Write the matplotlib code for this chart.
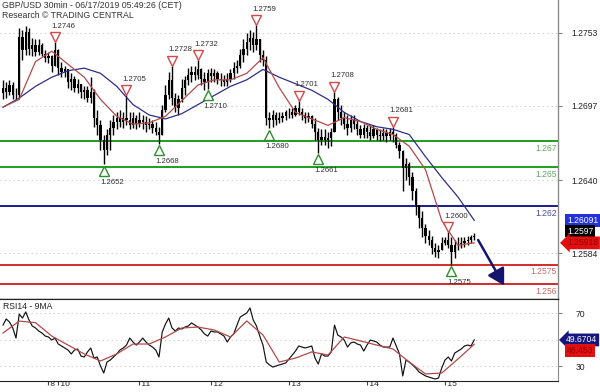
import matplotlib
matplotlib.use("Agg")
import matplotlib.pyplot as plt
import matplotlib.transforms as mtransforms
import numpy as np

plt.rcParams["font.family"] = ["Liberation Sans", "DejaVu Sans"]

# ---------------- data (hourly-sampled 30min chart) ----------------
first_open = 1.2707
closes = [
    1.2711, 1.2708, 1.2713, 1.2705, 1.2705, 1.2750, 1.2740, 1.2754, 1.2741, 1.2744,
    1.2738, 1.2744, 1.2737, 1.2734, 1.2735, 1.2728, 1.2740, 1.2726, 1.2723, 1.2725,
    1.2715, 1.2718, 1.2711, 1.2714, 1.2708, 1.2709, 1.2703, 1.2708, 1.2688, 1.2682,
    1.2671, 1.2663, 1.2675, 1.2680, 1.2685, 1.2688, 1.2685, 1.2688, 1.2686, 1.2682,
    1.2688, 1.2683, 1.2686, 1.2685, 1.2682, 1.2683, 1.2680, 1.2677, 1.2675, 1.2694,
    1.2705, 1.2717, 1.2703, 1.2695, 1.2702, 1.2711, 1.2717, 1.2721, 1.2723, 1.2721,
    1.2725, 1.2718, 1.2715, 1.2722, 1.2720, 1.2722, 1.2718, 1.2717, 1.2715, 1.2718,
    1.2722, 1.2726, 1.2728, 1.2736, 1.2741, 1.2746, 1.2749, 1.2744, 1.2748, 1.2736,
    1.2732, 1.2688, 1.2686, 1.2690, 1.2686, 1.2688, 1.2689, 1.2692, 1.2692, 1.2690,
    1.2695, 1.2692, 1.2690, 1.2688, 1.2689, 1.2683, 1.2677, 1.2671, 1.2673, 1.2671,
    1.2672, 1.2677, 1.2702, 1.2692, 1.2688, 1.2683, 1.2680, 1.2686, 1.2683, 1.2679,
    1.2675, 1.2680, 1.2677, 1.2674, 1.2679, 1.2675, 1.2674, 1.2676, 1.2674, 1.2677,
    1.2675, 1.2667, 1.2662, 1.2649, 1.2652, 1.2642, 1.2632, 1.2621, 1.2611, 1.2603,
    1.2597, 1.2594, 1.2588, 1.2585, 1.2586, 1.2592, 1.2594, 1.2590, 1.2585, 1.2590,
    1.2591, 1.2592, 1.2593, 1.2594, 1.2596, 1.2597,
]
highs = [
    1.2717, 1.2715, 1.2717, 1.2715, 1.2711, 1.2757, 1.2755, 1.2758, 1.2757, 1.2749,
    1.2748, 1.2748, 1.2745, 1.2740, 1.2738, 1.2736, 1.2746, 1.2741, 1.2731, 1.2728,
    1.2725, 1.2722, 1.2720, 1.2718, 1.2714, 1.2712, 1.2712, 1.2719, 1.2710, 1.2694,
    1.2686, 1.2675, 1.2679, 1.2686, 1.2690, 1.2692, 1.2694, 1.2692, 1.2705, 1.2692,
    1.2692, 1.2690, 1.2692, 1.2690, 1.2689, 1.2688, 1.2686, 1.2685, 1.2681, 1.2698,
    1.2713, 1.2723, 1.2728, 1.2707, 1.2705, 1.2718, 1.2720, 1.2726, 1.2728, 1.2728,
    1.2732, 1.2726, 1.2723, 1.2725, 1.2726, 1.2725, 1.2724, 1.2722, 1.2721, 1.2722,
    1.2725, 1.2731, 1.2732, 1.2741, 1.2748, 1.2753, 1.2755, 1.2754, 1.2759, 1.2744,
    1.2740, 1.2735, 1.2692, 1.2694, 1.2692, 1.2692, 1.2692, 1.2694, 1.2695, 1.2695,
    1.2698, 1.2701, 1.2695, 1.2692, 1.2692, 1.2690, 1.2688, 1.2680, 1.2679, 1.2679,
    1.2677, 1.2680, 1.2708, 1.2704, 1.2698, 1.2692, 1.2690, 1.2690, 1.2690, 1.2686,
    1.2682, 1.2683, 1.2682, 1.2682, 1.2682, 1.2680, 1.2679, 1.2680, 1.2679, 1.2680,
    1.2681, 1.2676, 1.2669, 1.2663, 1.2657, 1.2654, 1.2646, 1.2634, 1.2621, 1.2616,
    1.2606, 1.2602, 1.2597, 1.2592, 1.2590, 1.2596, 1.2596, 1.2600, 1.2596, 1.2594,
    1.2596, 1.2596, 1.2596, 1.2597, 1.2598, 1.2599,
]
lows = [
    1.2702, 1.2703, 1.2705, 1.2702, 1.2702, 1.2703, 1.2732, 1.2736, 1.2736, 1.2735,
    1.2735, 1.2736, 1.2735, 1.2731, 1.2730, 1.2723, 1.2728, 1.2721, 1.2719, 1.2719,
    1.2711, 1.2709, 1.2708, 1.2707, 1.2703, 1.2702, 1.2700, 1.2699, 1.2681, 1.2675,
    1.2663, 1.2652, 1.2659, 1.2663, 1.2675, 1.2679, 1.2681, 1.2680, 1.2682, 1.2679,
    1.2680, 1.2679, 1.2681, 1.2679, 1.2677, 1.2679, 1.2676, 1.2675, 1.2668, 1.2675,
    1.2692, 1.2702, 1.2698, 1.2692, 1.2690, 1.2700, 1.2705, 1.2713, 1.2715, 1.2717,
    1.2718, 1.2713, 1.2709, 1.2710, 1.2715, 1.2715, 1.2714, 1.2712, 1.2712, 1.2712,
    1.2715, 1.2718, 1.2722, 1.2726, 1.2731, 1.2736, 1.2740, 1.2738, 1.2740, 1.2731,
    1.2728, 1.2682, 1.2680, 1.2681, 1.2682, 1.2684, 1.2685, 1.2686, 1.2688, 1.2688,
    1.2689, 1.2690, 1.2686, 1.2684, 1.2685, 1.2680, 1.2671, 1.2661, 1.2667, 1.2667,
    1.2665, 1.2666, 1.2677, 1.2686, 1.2682, 1.2679, 1.2675, 1.2677, 1.2679, 1.2675,
    1.2672, 1.2672, 1.2672, 1.2671, 1.2672, 1.2671, 1.2670, 1.2671, 1.2669, 1.2671,
    1.2669, 1.2665, 1.2657, 1.2632, 1.2640, 1.2636, 1.2625, 1.2613, 1.2603, 1.2596,
    1.2592, 1.2590, 1.2583, 1.2581, 1.2580, 1.2586, 1.2590, 1.2588, 1.2575, 1.2580,
    1.2586, 1.2588, 1.2589, 1.2590, 1.2592, 1.2594,
]

# moving averages read every 5 bars
ma_step = 5
ma_red = [1.2696, 1.2702, 1.2731, 1.2739, 1.2729, 1.2719, 1.2702, 1.2689, 1.2683, 1.2684,
          1.2689, 1.2701, 1.2713, 1.2717, 1.2717, 1.2722, 1.2734, 1.2711, 1.2692, 1.2687,
          1.2682, 1.2688, 1.2685, 1.2679, 1.2675, 1.2666, 1.2648, 1.2609, 1.2590, 1.25918]
ma_blue = [1.2696, 1.2703, 1.2712, 1.2719, 1.2724, 1.2726, 1.2722, 1.2712, 1.2698, 1.2690,
           1.2687, 1.2691, 1.2698, 1.2705, 1.2712, 1.2717, 1.2725, 1.2719, 1.2714, 1.2709,
           1.2702, 1.2692, 1.2685, 1.2681, 1.2679, 1.2675, 1.2658, 1.2642, 1.2627, 1.26091]

rsi = [60.9, 65.5, 63.2, 58.7, 51.1, 69.2, 66.2, 70.8, 64.7, 60.2,
       58.7, 56.4, 54.9, 52.6, 51.9, 49.6, 51.1, 46.6, 45.1, 43.6,
       42.1, 39.1, 42.1, 42.8, 37.5, 36.8, 40.6, 43.6, 36.0, 36.8,
       30.0, 24.7, 33.0, 34.5, 36.8, 39.1, 42.1, 43.6, 45.8, 51.1,
       48.1, 45.8, 48.1, 51.1, 48.1, 45.8, 44.3, 42.1, 36.8, 55.7,
       61.7, 66.2, 58.7, 56.4, 58.7, 57.9, 59.4, 60.2, 62.5, 60.9,
       59.4, 57.2, 54.2, 52.6, 56.4, 55.7, 55.7, 54.2, 52.6, 48.1,
       51.9, 54.2, 60.9, 67.0, 68.5, 70.0, 73.8, 64.7, 60.2, 52.6,
       45.8, 33.0, 30.8, 29.2, 30.0, 30.8, 31.5, 32.3, 35.3, 38.3,
       41.3, 45.1, 44.3, 43.6, 44.3, 45.1, 36.0, 31.5, 39.1, 37.5,
       37.5, 40.6, 60.9, 53.4, 51.9, 49.6, 44.3, 47.4, 48.1, 46.6,
       45.8, 41.3, 45.8, 49.6, 48.9, 48.1, 45.8, 44.3, 44.3, 44.3,
       51.1, 45.1, 39.1, 22.5, 34.5, 33.0, 30.8, 28.5, 25.5, 24.0,
       22.5, 21.7, 20.9, 20.2, 20.9, 28.5, 34.5, 36.8, 33.8, 39.8,
       41.3, 42.8, 45.1, 45.8, 45.1, 49.6704]
rsi_ma = [54.9, 63.9, 62.7, 52.6, 45.8, 39.1, 33.8, 39.1, 46.6, 46.6,
          51.9, 58.7, 59.4, 57.2, 51.9, 64.0, 53.4, 33.0, 36.0, 40.6,
          38.3, 51.9, 48.9, 45.8, 42.8, 33.0, 24.0, 24.7, 35.3, 46.453]

levels = [1.2670, 1.2650, 1.2620, 1.2575, 1.2560]
level_labels = ["1.267", "1.265", "1.262", "1.2575", "1.256"]

pivot_idx = [16, 38, 31, 48, 52, 60, 63, 78, 82, 91, 97, 102, 120, 137, 138]
pivot_val = [1.2746, 1.2705, 1.2652, 1.2668, 1.2728, 1.2732, 1.2710, 1.2759,
             1.2680, 1.2701, 1.2661, 1.2708, 1.2681, 1.2600, 1.2575]
pivot_type = ["H", "H", "L", "L", "H", "H", "L", "H", "L", "H", "L", "H", "H", "H", "L"]

price_ticks = [1.2584, 1.2640, 1.2697, 1.2753]
day_pos = [14, 17, 42, 64, 88, 112, 136]
day_labels = ["8", "10", "11", "12", "13", "14", "15"]

arrow_from = (146.2, 1.2594)
arrow_to = (154.2, 1.2559)

# ---------------- figure ----------------
fig = plt.figure(figsize=(6.0, 3.92), dpi=100)
ax = fig.add_axes([0, 1 - 299 / 392, 558 / 600, 299 / 392])
axr = fig.add_axes([0, 1 - 381 / 392, 558 / 600, 82 / 392])

XLIM = (-0.923, 170.77)

x = np.arange(len(closes))
c = np.array(closes)
o = np.r_[first_open, c[:-1]]
hi = np.maximum(np.array(highs), np.maximum(o, c))
lo = np.minimum(np.array(lows), np.minimum(o, c))

# grid
for t in price_ticks:
    ax.axhline(t, color="#c8c8c8", lw=0.8, ls=(0, (1, 3)), zorder=0)

# levels
lev_colors = ["#1e9e1e", "#1e9e1e", "#1c1c8c", "#d42a2a", "#d42a2a"]
lev_tcolors = ["#5fa85f", "#5fa85f", "#4a4a9e", "#c86a6a", "#c86a6a"]
ytr = ax.get_yaxis_transform()
for lv, lbl, lc, tc in zip(levels, level_labels, lev_colors, lev_tcolors):
    ax.axhline(lv, color=lc, lw=1.4, zorder=2)
    ax.annotate(lbl, xy=(1.0, lv), xycoords=ytr, xytext=(-1, -7),
                textcoords="offset pixels", ha="right", va="center",
                fontsize=6.2, color=tc, zorder=3)

# candles
ax.vlines(x, lo, hi, color="black", lw=1.0, zorder=4)
ax.bar(x, np.maximum(np.abs(c - o), 0.00004), bottom=np.minimum(o, c),
       width=0.72, color="black", linewidth=0, zorder=4)

# moving averages
ma_x = np.arange(0, len(closes), ma_step)
ax.plot(ma_x, ma_blue, color="#2f2f86", lw=0.9, zorder=5)
ax.plot(ma_x, ma_red, color="#b24a4a", lw=0.9, zorder=5)

# pivots
for pi, pv, pt in zip(pivot_idx, pivot_val, pivot_type):
    if pt == "H":
        tri_off, txt_off, mk, col = 5, 16, "v", "#d24a4a"
    else:
        tri_off, txt_off, mk, col = -6.5, -18, "^", "#2e8f2e"
    tr = mtransforms.offset_copy(ax.transData, fig=fig, x=0, y=tri_off, units="dots")
    ax.plot([pi], [pv], marker=mk, ms=7, mfc="white", mec=col, mew=1.0,
            transform=tr, zorder=6, clip_on=False)
    ax.annotate(f"{pv:.4f}", xy=(pi, pv), xytext=(8, txt_off),
                textcoords="offset pixels", ha="center", va="center",
                fontsize=5.6, color="#303030", zorder=6)

# projection arrow
ax.annotate("", xy=arrow_to, xytext=arrow_from,
            arrowprops=dict(arrowstyle="-|>,head_length=0.7,head_width=0.4",
                            color="#15156e", lw=1.8, shrinkA=0, shrinkB=0,
                            mutation_scale=14),
            annotation_clip=False, zorder=7)

ax.set_xlim(*XLIM)
ax.set_ylim(1.25487, 1.27783)
ax.yaxis.tick_right()
ax.set_yticks(price_ticks)
ax.set_yticklabels([f"{t:.4f}" for t in price_ticks])
ax.tick_params(axis="y", length=3, color="#808080", labelsize=6.2, pad=7,
               labelcolor="#222222")
ax.tick_params(axis="x", bottom=False, labelbottom=False)
for s in ("left", "top"):
    ax.spines[s].set_visible(False)
ax.spines["right"].set_color("#8a8a8a")
ax.spines["right"].set_linewidth(1.0)
ax.spines["bottom"].set_color("#222222")
ax.spines["bottom"].set_linewidth(1.0)


def valbox(axis, val, text, fc, tc, dy=0, style="square", dx=9):
    axis.annotate(text, xy=(1.0, val), xycoords=axis.get_yaxis_transform(),
                  xytext=(dx, dy), textcoords="offset pixels", ha="left",
                  va="center", fontsize=6.2, color=tc,
                  bbox=dict(boxstyle=f"{style},pad=0.22", fc=fc, ec="none"),
                  annotation_clip=False, zorder=10)


valbox(ax, ma_blue[-1], f"{ma_blue[-1]:.5f}", "#2331dd", "white")
valbox(ax, closes[-1], f"{closes[-1]:.4f}", "#000000", "white", dy=5)
valbox(ax, ma_red[-1], f"{ma_red[-1]:.5f}", "#e01010", "#9a0000", style="larrow")

# ---------------- RSI panel ----------------
for t in (30, 50, 70):
    axr.axhline(t, color="#c8c8c8", lw=0.8, ls=(0, (1, 3)), zorder=0)
axr.plot(x, rsi, color="#111111", lw=0.85, zorder=3)
axr.plot(ma_x, rsi_ma, color="#b24a4a", lw=0.9, zorder=4)
axr.set_xlim(*XLIM)
axr.set_ylim(18.68, 80.57)
axr.yaxis.tick_right()
axr.set_yticks([30, 70])
axr.set_yticklabels(["30", "70"])
axr.tick_params(axis="y", length=3, color="#808080", labelsize=6.2, pad=10,
                labelcolor="#222222")
axr.set_xticks(day_pos)
axr.set_xticklabels([" " + d for d in day_labels])
axr.tick_params(axis="x", length=3, color="#444444", labelsize=6.0, pad=-3.2,
                labelcolor="#222222", direction="out")
for lab in axr.get_xticklabels():
    lab.set_horizontalalignment("left")
axr.spines["left"].set_visible(False)
axr.spines["right"].set_color("#8a8a8a")
axr.spines["top"].set_color("#222222")
axr.spines["bottom"].set_color("#222222")

valbox(axr, rsi[-1], f"{rsi[-1]:.4f}", "#16167e", "white", style="larrow", dx=8)
valbox(axr, rsi_ma[-1], f"{rsi_ma[-1]:.3f}", "#e01010", "#9a0000", dy=-6)

axr.text(0.005, 0.96, "RSI14 - 9MA", transform=axr.transAxes, ha="left",
         va="top", fontsize=6.2, color="#222222")

fig.text(2 / 600, 1 - 1 / 392, "GBP/USD 30min - 06/17/2019 05:49:26 (CET)",
         ha="left", va="top", fontsize=6.3, color="#333333")
fig.text(2 / 600, 1 - 11 / 392, "Research \u00a9 TRADING CENTRAL",
         ha="left", va="top", fontsize=6.3, color="#333333")

fig.savefig("out.png", dpi=100, facecolor="white")
